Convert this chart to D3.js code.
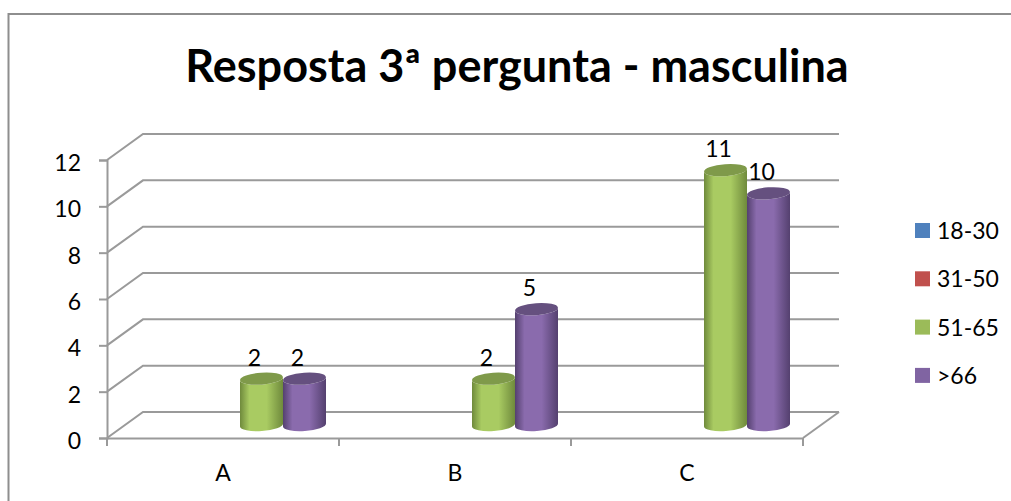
<!DOCTYPE html>
<html>
<head>
<meta charset="utf-8">
<script src="https://cdn.jsdelivr.net/npm/d3@7"></script>
<style>
  html, body { margin: 0; padding: 0; background: #fff; overflow: hidden; }
  text { font-family: Lato, "Open Sans", sans-serif; fill: #000; }
</style>
</head>
<body>
<div id="graf"></div>
<script>
// Datos
categorias = ['A', 'B', 'C']
series = ['18-30', '31-50', '51-65', '>66']
valores_18_30 = [null, null, null]
valores_31_50 = [null, null, null]
valores_51_65 = [2, 2, 11]
valores_66 = [2, 5, 10]
marcas_y = [0, 2, 4, 6, 8, 10, 12]
colores = ['#4f81bd', '#c0504d', '#9bbb59', '#8064a2']
// gradiente de cada cilindro: borde, centro, tapa
tonos = {
  '51-65': ['#6f8a3c', '#a9cb62', '#7f9a4a'],
  '>66': ['#54406f', '#8a6bad', '#65507f']
}
titulo = 'Resposta 3ª pergunta - masculina'

ancho_total = 1011
alto_total = 501

svg = d3.select('#graf').append('svg')
  .attr('width', ancho_total)
  .attr('height', alto_total)
  .style('display', 'block')

// marco del gráfico
svg.append('rect')
  .attr('x', 8.5).attr('y', 14)
  .attr('width', 1200).attr('height', 700)
  .attr('fill', 'none')
  .attr('stroke', '#8e8e8e')
  .attr('stroke-width', 2)

svg.append('text')
  .attr('x', 517).attr('y', 82)
  .attr('text-anchor', 'middle')
  .attr('font-size', 45)
  .attr('font-weight', 700)
  .text(titulo)

// plano frontal y profundidad 3D
frente = { izq: 107, der: 803, abajo: 438, arriba: 160 }
prof = { x: 36, y: -26 }

y = d3.scaleLinear().domain([0, 12]).range([frente.abajo, frente.arriba])
x = d3.scaleBand().domain(categorias).range([frente.izq, frente.der])
xSerie = d3.scaleBand().domain(series).range([-87, 85])

colorGrid = '#9a9a9a'

// rejilla: pared del fondo y piso lateral
grid = svg.append('g').attr('fill', 'none').attr('stroke', colorGrid).attr('stroke-width', 2)
marcas_y.forEach(d => {
  grid.append('path')
    .attr('d', d3.line()([
      [frente.izq, y(d)],
      [frente.izq + prof.x, y(d) + prof.y],
      [frente.der + prof.x, y(d) + prof.y]
    ]))
})
grid.append('path')
  .attr('d', d3.line()([
    [frente.der, frente.abajo],
    [frente.der + prof.x, frente.abajo + prof.y]
  ]))

// ejes
yAxisCall = d3.axisLeft(y).tickValues(marcas_y).tickSize(8).tickPadding(18).tickFormat(d3.format('d'))
yAxisGroup = svg.append('g')
  .attr('transform', `translate(${frente.izq}, 0)`)
  .call(yAxisCall)
yAxisGroup.selectAll('.tick text').attr('dy', '0.45em')

xAxisCall = d3.axisBottom(x).tickSize(0).tickPadding(27)
xAxisGroup = svg.append('g')
  .attr('transform', `translate(0, ${frente.abajo})`)
  .call(xAxisCall)

// marcas entre categorías
xAxisGroup.selectAll('.sep')
  .data(d3.range(categorias.length + 1))
  .enter().append('line')
  .attr('class', 'sep')
  .attr('x1', d => frente.izq + d * x.bandwidth())
  .attr('x2', d => frente.izq + d * x.bandwidth())
  .attr('y1', 0).attr('y2', 8)

svg.selectAll('.domain, .tick line, .sep')
  .attr('stroke', colorGrid)
  .attr('stroke-width', 2)
svg.selectAll('.tick text')
  .attr('font-size', 23)
  .style('font-family', 'Lato, "Open Sans", sans-serif')
  .attr('fill', '#000')

// gradientes
defs = svg.append('defs')
Object.keys(tonos).forEach((s, i) => {
  gr = defs.append('linearGradient').attr('id', 'cil' + i)
  gr.append('stop').attr('offset', '0%').attr('stop-color', tonos[s][0])
  gr.append('stop').attr('offset', '22%').attr('stop-color', tonos[s][1])
  gr.append('stop').attr('offset', '62%').attr('stop-color', tonos[s][1])
  gr.append('stop').attr('offset', '100%').attr('stop-color', tonos[s][0])
})

// cilindros
datos = []
;[valores_18_30, valores_31_50, valores_51_65, valores_66].forEach((vals, i) => {
  vals.forEach((v, j) => {
    if (v !== null) datos.push({ serie: series[i], cat: categorias[j], valor: v })
  })
})

rx = xSerie.bandwidth() / 2
ry = 6
giro = -4

function cilindro(d) {
  cx = x(d.cat) + x.bandwidth() / 2 + prof.x / 2 + xSerie(d.serie) + rx
  base = y(0) + prof.y / 2
  tope = y(d.valor) + prof.y / 2
  dy = rx * Math.sin(giro * Math.PI / 180)
  return `M${cx - rx},${tope - dy} L${cx - rx},${base - dy} ` +
    `A${rx},${ry} ${giro} 0 0 ${cx + rx},${base + dy} ` +
    `L${cx + rx},${tope + dy} ` +
    `A${rx},${ry} ${giro} 0 1 ${cx - rx},${tope - dy} Z`
}

barras = svg.append('g')
barras.selectAll('path.cuerpo')
  .data(datos)
  .enter().append('path')
  .attr('class', 'cuerpo')
  .attr('d', cilindro)
  .attr('fill', d => `url(#cil${Object.keys(tonos).indexOf(d.serie)})`)

barras.selectAll('ellipse')
  .data(datos)
  .enter().append('ellipse')
  .attr('rx', rx)
  .attr('ry', ry)
  .attr('transform', d => {
    cx = x(d.cat) + x.bandwidth() / 2 + prof.x / 2 + xSerie(d.serie) + rx
    return `translate(${cx}, ${y(d.valor) + prof.y / 2}) rotate(${giro})`
  })
  .attr('fill', d => tonos[d.serie][2])

// etiquetas de valor
svg.append('g').selectAll('text')
  .data(datos)
  .enter().append('text')
  .attr('x', d => x(d.cat) + x.bandwidth() / 2 + prof.x / 2 + xSerie(d.serie) + rx - 7)
  .attr('y', d => y(d.valor) + prof.y / 2 - 13)
  .attr('text-anchor', 'middle')
  .attr('font-size', 23)
  .text(d => d.valor)

// leyenda
leyenda = svg.append('g').selectAll('g')
  .data(series)
  .enter().append('g')
  .attr('transform', (d, i) => `translate(915, ${223 + i * 48.3})`)
leyenda.append('rect')
  .attr('width', 15).attr('height', 15)
  .attr('fill', (d, i) => colores[i])
leyenda.append('text')
  .attr('x', 22).attr('y', 16)
  .attr('font-size', 23)
  .text(d => d)
</script>
</body>
</html>
